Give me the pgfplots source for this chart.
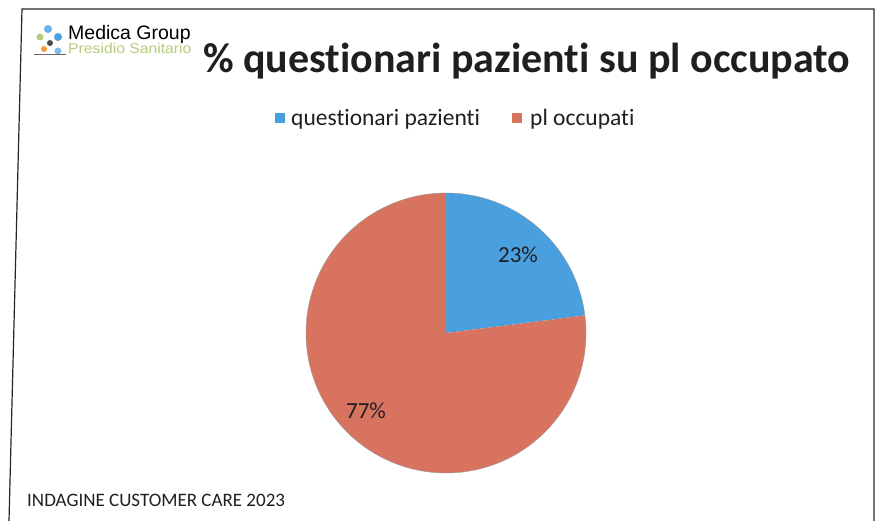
\documentclass[border=0pt]{standalone}
\usepackage{pgfplots}
\usepackage{pgfplotstable}
\pgfplotsset{compat=1.18}
\usepackage{fontspec}
\setmainfont[Ligatures=NoCommon]{Carlito}
\newfontfamily\logofont{Liberation Sans}

\definecolor{pieblue}{HTML}{4A9FDF}
\definecolor{piered}{HTML}{D8735F}
\definecolor{logogreen}{HTML}{B5CC7A}

% share of each slice, in percent
\pgfplotstableread{
label share
questionari 23
occupati 77
}\piedata

\pgfplotstablegetelem{0}{share}\of\piedata
\let\shareA\pgfplotsretval
\pgfplotstablegetelem{1}{share}\of\piedata
\let\shareB\pgfplotsretval
\pgfmathsetmacro\angA{90-3.6*\shareA}
\pgfmathsetmacro\angB{\angA-3.6*\shareB}

\begin{document}
\begin{tikzpicture}
\begin{axis}[
  scale only axis, width=879pt, height=521pt,
  xmin=0, xmax=879, ymin=0, ymax=521,
  hide axis, clip=false]
\path (axis cs:0,0) rectangle (axis cs:879,521);
% frame of the slide
\draw[line width=1.2pt, black!85] (axis cs:9,0) -- (axis cs:22,512) -- (axis cs:874,512) -- (axis cs:874,0);
% logo
\fill[pieblue!80] (axis cs:48,492) circle[radius=4pt];
\fill[logogreen] (axis cs:40,484) circle[radius=3.5pt];
\fill[pieblue] (axis cs:58,484) circle[radius=4pt];
\fill[black!70] (axis cs:50,478) circle[radius=3pt];
\fill[orange!80] (axis cs:44,472) circle[radius=3pt];
\fill[pieblue!70] (axis cs:58,470) circle[radius=3.5pt];
\draw[black!60, line width=1pt] (axis cs:34,466) -- (axis cs:66,466);
\node[anchor=base west, inner sep=0pt, font=\logofont\fontsize{19.5}{20}\selectfont] at (axis cs:68,481) {Medica Group};
\node[anchor=base west, inner sep=0pt, font=\logofont\fontsize{14.3}{15}\selectfont, text=logogreen, xscale=1.1] at (axis cs:68,467) {Presidio Sanitario};
% title
\node[anchor=base west, inner sep=0pt, font=\bfseries\fontsize{42}{43}\selectfont, text=black!88] at (axis cs:203,448) {\% questionari pazienti su pl occupato};
% legend
\fill[pieblue] (axis cs:275,398) rectangle (axis cs:285,408);
\node[anchor=base west, inner sep=0pt, font=\fontsize{23.5}{24}\selectfont, text=black!88] at (axis cs:291,395) {questionari pazienti};
\fill[piered] (axis cs:512,398) rectangle (axis cs:522,408);
\node[anchor=base west, inner sep=0pt, font=\fontsize{23.5}{24}\selectfont, text=black!88] at (axis cs:530,395) {pl occupati};
% pie
\fill[pieblue] (axis cs:446,188) -- ++(90:140pt) arc[start angle=90, end angle=\angA, radius=140pt] -- cycle;
\fill[piered] (axis cs:446,188) -- ++(\angA:140pt) arc[start angle=\angA, end angle=\angB, radius=140pt] -- cycle;
\draw[black!40, line width=0.4pt] (axis cs:446,188) circle[radius=140pt];
\node[font=\fontsize{23}{23}\selectfont, text=black!88] at (axis cs:518,266) {\shareA\%};
\node[font=\fontsize{23}{23}\selectfont, text=black!88] at (axis cs:366,110) {\shareB\%};
% footer
\node[anchor=base west, inner sep=0pt, font=\fontsize{19}{19}\selectfont, text=black!88] at (axis cs:27,14) {INDAGINE CUSTOMER CARE 2023};
\end{axis}
\end{tikzpicture}
\end{document}
